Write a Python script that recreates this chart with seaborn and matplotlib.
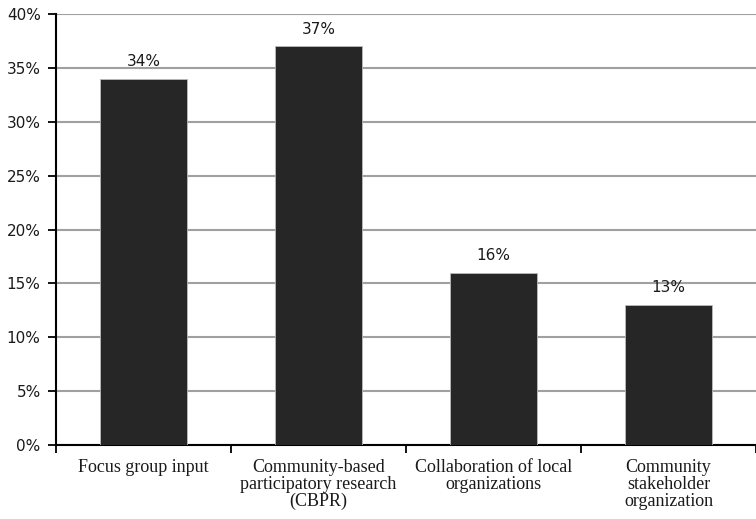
import matplotlib
matplotlib.use("Agg")
import matplotlib.pyplot as plt
import seaborn as sns
import pandas as pd
from matplotlib.ticker import FixedLocator

categories = ["Focus group input", "Community-based\nparticipatory research\n(CBPR)",
              "Collaboration of local\norganizations", "Community\nstakeholder\norganization"]
values = [34, 37, 16, 13]
bar_labels = ["34%", "37%", "16%", "13%"]
y_ticks = [0, 5, 10, 15, 20, 25, 30, 35, 40]
y_tick_labels = ["0%", "5%", "10%", "15%", "20%", "25%", "30%", "35%", "40%"]

sns.set_style("white")
plt.rcParams['font.family'] = ['DejaVu Sans']

df = pd.DataFrame({"cat": categories, "val": values})

fig = plt.figure(figsize=(7.56, 5.19), dpi=100)
ax = fig.add_axes([0.074, 0.1426, 0.926, 0.8304])

sns.barplot(data=df, x="cat", y="val", color="#262626", width=0.5,
            edgecolor="#bbbbbb", linewidth=0.6, saturation=1, ax=ax, zorder=3)

ax.set_ylim(0, 40)
ax.set_xlim(-0.5, 3.5)
ax.set_yticks(y_ticks)
ax.set_yticklabels(y_tick_labels, fontsize=11, color="#1a1a1a")
ax.yaxis.grid(True, color="#a0a0a0", linewidth=1.5, zorder=0)
ax.set_axisbelow(True)

ax.set_xticks(range(len(categories)))
ax.set_xticklabels(categories, fontsize=13, family="Liberation Serif", color="#1a1a1a",
                   linespacing=1.0)
ax.tick_params(axis="x", which="major", length=0, pad=10)
ax.xaxis.set_minor_locator(FixedLocator([-0.5, 0.5, 1.5, 2.5, 3.5]))
ax.tick_params(axis="x", which="minor", length=6, width=1.3, direction="out", color="black", bottom=True)
ax.tick_params(axis="y", length=6, width=1.3, direction="out", color="black", left=True, pad=5)

for s in ["top", "right"]:
    ax.spines[s].set_visible(False)
for s in ["left", "bottom"]:
    ax.spines[s].set_color("black")
    ax.spines[s].set_linewidth(1.5)

ax.set_xlabel("")
ax.set_ylabel("")

for i, (v, lab) in enumerate(zip(values, bar_labels)):
    ax.annotate(lab, (i, v), xytext=(0, 7), textcoords="offset points",
                ha="center", va="bottom", fontsize=11, color="#1a1a1a")

fig.savefig("out.png", dpi=100)
